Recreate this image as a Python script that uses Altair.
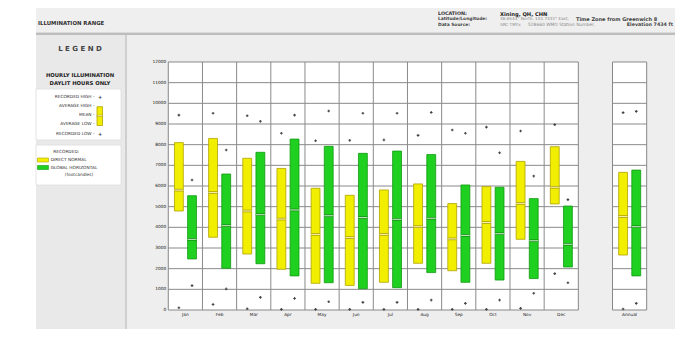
import altair as alt
import pandas as pd

# ---------------- data ----------------
months = ["Jan", "Feb", "Mar", "Apr", "May", "Jun", "Jul", "Aug", "Sep", "Oct", "Nov", "Dec", "Annual"]

# Direct normal illumination (footcandles)
dn_avg_high = [8100, 8300, 7340, 6850, 5890, 5550, 5810, 6100, 5150, 5970, 7190, 7900, 6660]
dn_avg_low = [4790, 3520, 2710, 1970, 1290, 1190, 1340, 2260, 1900, 2260, 3420, 5130, 2660]
dn_mean = [5800, 5680, 4790, 4400, 3660, 3500, 3660, 4030, 3440, 4230, 5160, 5940, 4520]
dn_rec_high = [9430, 9520, 9400, 8550, 8190, 8210, 8230, 8450, 8710, 8850, 8660, 8970, 9550]
dn_rec_low = [110, 270, 60, 30, 30, 30, 30, 30, 30, 30, 80, 1760, 50]

# Global horizontal illumination (footcandles)
gh_avg_high = [5530, 6580, 7630, 8270, 7920, 7580, 7690, 7520, 6050, 5940, 5390, 5030, 6770]
gh_avg_low = [2470, 2020, 2240, 1650, 1320, 1030, 1080, 1810, 1340, 1450, 1520, 2080, 1650]
gh_mean = [3420, 4080, 4610, 4840, 4560, 4470, 4390, 4440, 3610, 3690, 3350, 3180, 4030]
gh_rec_high = [6290, 7740, 9130, 9430, 9630, 9520, 9520, 9560, 8550, 7610, 6480, 5340, 9610]
gh_rec_low = [1180, 1020, 610, 560, 400, 370, 370, 480, 320, 480, 810, 1320, 320]

y_ticks = list(range(0, 13000, 1000))

# ---------------- layout helpers ----------------
slot = list(range(12)) + [13]          # column slot of each month (gap before Annual)
DN_OFF, GH_OFF, HALF = 0.31, 0.695, 0.13

def series_df(off, lo, hi, mean, rh, rl):
    d = pd.DataFrame({"month": months, "lo": lo, "hi": hi, "mean": mean, "rh": rh, "rl": rl})
    d["xc"] = [s + off for s in slot]
    d["x1"] = d["xc"] - HALF
    d["x2"] = d["xc"] + HALF
    return d

dn = series_df(DN_OFF, dn_avg_low, dn_avg_high, dn_mean, dn_rec_high, dn_rec_low)
gh = series_df(GH_OFF, gh_avg_low, gh_avg_high, gh_mean, gh_rec_high, gh_rec_low)

xs = alt.Scale(domain=[-4.691, 14.829], nice=False, zero=False)
ys = alt.Scale(domain=[-919.35, 14612.9], nice=False, zero=False)
X = lambda f: alt.X(f, type="quantitative", scale=xs, axis=None)
Y = lambda f: alt.Y(f, type="quantitative", scale=ys, axis=None)

one = pd.DataFrame({"k": [0]})
FONT = "DejaVu Sans"

def box(x1, x2, y1, y2, fill, stroke=None, sw=0.0):
    props = dict(fill=fill)
    if stroke:
        props.update(stroke=stroke, strokeWidth=sw)
    else:
        props.update(strokeWidth=0)
    return alt.Chart(one).mark_rect(**props).encode(
        x=alt.value(x1), x2=alt.value(x2), y=alt.value(y1), y2=alt.value(y2))

def txt(s, x, y, size=5.0, bold=False, color="#333333", align="left"):
    return alt.Chart(one).mark_text(
        text=s, fontSize=size, fontWeight="bold" if bold else "normal", color=color,
        align=align, baseline="middle", font=FONT).encode(x=alt.value(x), y=alt.value(y))

layers = []

# ---------------- backgrounds / header / legend ----------------
layers += [
    box(28, 667, 0, 24.5, "#efefef"),
    box(28, 667, 24.5, 27, "#bdbdbd"),
    box(28, 118, 27, 321, "#e9e9e9"),
    box(117, 119, 27, 321, "#cfcfcf"),
    box(119, 667, 27, 321, "#eeeeee"),
    txt("ILLUMINATION RANGE", 30, 15, 5.4, True, "#333333"),
    txt("LOCATION:", 430, 6, 4.8, True, "#333333"),
    txt("Xining, QH, CHN", 492, 6, 5.2, True, "#222222"),
    txt("Latitude/Longitude:", 430, 11.3, 4.4, True, "#444444"),
    txt("36.6544° North, 101.7331° East,", 492, 11.3, 4.2, False, "#8a8a8a"),
    txt("Time Zone from Greenwich 8", 568, 11.3, 5.0, True, "#444444"),
    txt("Data Source:", 430, 16.6, 4.4, True, "#444444"),
    txt("SRC TMYx", 492, 16.6, 4.2, False, "#8a8a8a"),
    txt("528660 WMO Station Number,", 520, 16.6, 4.4, False, "#8a8a8a"),
    txt("Elevation 7434 ft", 665, 16.6, 4.8, True, "#444444", "right"),
    # legend
    txt("L E G E N D", 72, 41, 7, True, "#444444", "center"),
    txt("HOURLY ILLUMINATION", 72, 67, 5.3, True, "#222222", "center"),
    txt("DAYLIT HOURS ONLY", 72, 74.5, 5.3, True, "#222222", "center"),
    box(28, 113, 81, 132, "#ffffff", "#dddddd", 0.8),
    txt("RECORDED HIGH -", 86.5, 89.3, 4.3, False, "#333333", "right"),
    txt("AVERAGE HIGH -", 86.5, 98, 4.3, False, "#333333", "right"),
    txt("MEAN -", 86.5, 107, 4.3, False, "#333333", "right"),
    txt("AVERAGE LOW -", 86.5, 115.5, 4.3, False, "#333333", "right"),
    txt("RECORDED LOW -", 86.5, 125.7, 4.3, False, "#333333", "right"),
    txt("+", 92, 89.3, 5, True, "#333333", "center"),
    txt("+", 92, 125.7, 5, True, "#333333", "center"),
    box(89, 94.5, 98.7, 117.5, "#f2ee00", "#b0a300", 0.8),
    box(89, 94.5, 107, 108.5, "#f7f4b0", "#a89a00", 0.5),
    box(28, 113, 137, 177, "#ffffff", "#dddddd", 0.8),
    txt("RECORDED:", 45.3, 143.7, 4.3, False, "#333333"),
    box(29.5, 40.5, 150, 154, "#f2ee00", "#b0a300", 0.6),
    txt("DIRECT NORMAL", 42.7, 152, 4.3, False, "#333333"),
    box(29.5, 40.5, 157.5, 161.5, "#20d020", "#129a12", 0.6),
    txt("GLOBAL HORIZONTAL", 42.7, 159.5, 4.3, False, "#333333"),
    txt("(footcandles)", 71, 167, 4.3, False, "#333333", "center"),
]

# ---------------- plot panels & grid ----------------
panels = pd.DataFrame({"u1": [0, 13], "u2": [12, 14], "v1": [0, 0], "v2": [12000, 12000]})
hgrid = pd.DataFrame([(v, a, b) for v in y_ticks[1:-1] for a, b in [(0, 12), (13, 14)]],
                     columns=["v", "u1", "u2"])
vgrid = pd.DataFrame({"u": list(range(1, 12)), "v1": 0, "v2": 12000})

layers.append(alt.Chart(panels).mark_rect(fill="#ffffff", strokeWidth=0).encode(
    x=X("u1"), x2="u2", y=Y("v1"), y2="v2"))
layers.append(alt.Chart(hgrid).mark_rule(color="#8a8a8a", strokeWidth=1).encode(
    x=X("u1"), x2="u2", y=Y("v")))
layers.append(alt.Chart(vgrid).mark_rule(color="#8a8a8a", strokeWidth=1).encode(
    x=X("u"), y=Y("v1"), y2="v2"))
layers.append(alt.Chart(panels).mark_rect(fill=None, stroke="#888888", strokeWidth=1).encode(
    x=X("u1"), x2="u2", y=Y("v1"), y2="v2"))

# ---------------- bars, means, recorded points ----------------
for d, fill, edge, pale, dark in [
    (dn, "#f2ee00", "#b0a300", "#f7f4b0", "#a89a00"),
    (gh, "#20d020", "#129a12", "#c4ecc4", "#0f8a0f"),
]:
    layers.append(alt.Chart(d).mark_rect(fill=fill, stroke=edge, strokeWidth=0.8).encode(
        x=X("x1"), x2="x2", y=Y("lo"), y2="hi"))
    layers.append(alt.Chart(d).mark_rule(color=dark, strokeWidth=2.6).encode(
        x=X("x1"), x2="x2", y=Y("mean")))
    layers.append(alt.Chart(d).mark_rule(color=pale, strokeWidth=1.1).encode(
        x=X("x1"), x2="x2", y=Y("mean")))
    for f in ["rh", "rl"]:
        layers.append(alt.Chart(d).mark_point(shape="cross", filled=True, size=7, color="#444444",
                                               opacity=1).encode(x=X("xc"), y=Y(f)))

# ---------------- axis labels ----------------
ylab = pd.DataFrame({"v": y_ticks, "u": 0, "lab": [str(v) for v in y_ticks]})
layers.append(alt.Chart(ylab).mark_text(align="right", baseline="middle", dx=-2, fontSize=4.3,
                                        color="#111111", font=FONT).encode(
    x=X("u"), y=Y("v"), text="lab:N"))
mlab = pd.DataFrame({"u": [s + 0.5 for s in slot], "lab": months})
layers.append(alt.Chart(mlab).mark_text(align="center", baseline="middle", fontSize=4.3,
                                        color="#222222", font=FONT).encode(
    x=X("u"), y=alt.value(307), text="lab:N"))

chart = alt.layer(*layers).properties(
    width=667, height=321, autosize=alt.AutoSizeParams(type="none"), padding=0,
    background="#ffffff",
).configure_view(stroke=None)

chart.save("out.html", embed_options={"renderer": "svg", "actions": False})
